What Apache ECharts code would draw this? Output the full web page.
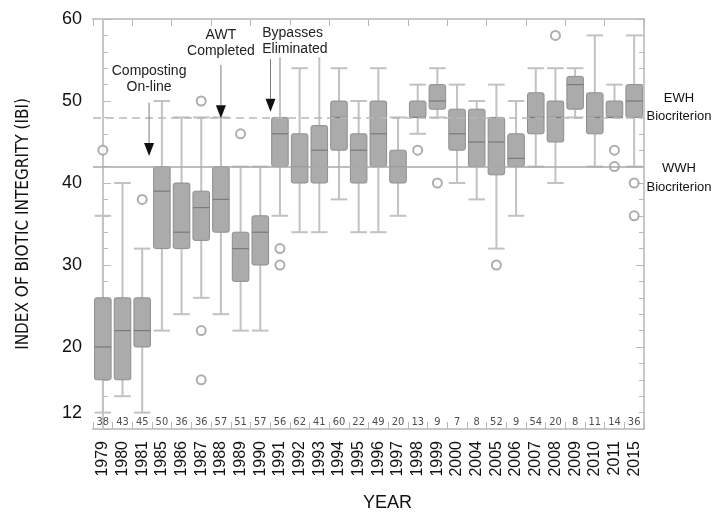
<!DOCTYPE html>
<html>
<head>
<meta charset="utf-8">
<title>Index of Biotic Integrity by year</title>
<script src="https://cdn.jsdelivr.net/npm/echarts@6/dist/echarts.min.js"></script>
<style>
  html, body { margin: 0; padding: 0; background: #fff; }
  #main { width: 722px; height: 513px; }
</style>
</head>
<body>
<div id="main"></div>
<script>
// sampling years and number of samples per year
var years = ['1979', '1980', '1981', '1985', '1986', '1987', '1988', '1989', '1990', '1991',
             '1992', '1993', '1994', '1995', '1996', '1997', '1998', '1999', '2000', '2004',
             '2005', '2006', '2007', '2008', '2009', '2010', '2011', '2015'];
var sampleN = [38, 43, 45, 50, 36, 36, 57, 51, 57, 56, 62, 41, 60, 22, 49, 20, 13, 9, 7, 8,
               52, 9, 54, 20, 8, 11, 14, 36];

// box statistics (IBI)
var whiskerLow  = [12, 14, 12, 22, 24, 26, 24, 22, 22, 36, 34, 34, 38, 34, 34, 36, 46, 48, 40, 38, 32, 36, 42, 40, 48, 42, 48, 42];
var boxLow      = [16, 16, 20, 32, 32, 33, 34, 28, 30, 42, 40, 40, 44, 40, 42, 40, 48, 49, 44, 42, 41, 42, 46, 45, 49, 46, 48, 48];
var medians     = [20, 22, 22, 39, 34, 37, 38, 32, 34, 46, 42, 44, 48, 44, 46, 42, 48, 50, 46, 45, 45, 43, 48, 48, 52, 48, 48, 50];
var boxHigh     = [26, 26, 26, 42, 40, 39, 42, 34, 36, 48, 46, 47, 50, 46, 50, 44, 50, 52, 49, 49, 48, 46, 51, 50, 53, 51, 50, 52];
var whiskerHigh = [36, 40, 32, 50, 48, 48, 48, 42, 42, 56, 54, 56, 54, 50, 54, 48, 52, 54, 52, 50, 52, 50, 54, 54, 54, 58, 52, 58];

var outlierYears  = ['1979', '1981', '1987', '1987', '1987', '1989', '1991', '1991', '1998', '1999', '2005', '2008', '2011', '2011', '2015', '2015'];
var outlierValues = [44, 38, 50, 22, 16, 46, 32, 30, 44, 40, 30, 58, 44, 42, 40, 36];

// biocriteria
var critLabels = ['EWH\nBiocriterion', 'WWH\nBiocriterion'];
var critValues = [48, 42];
var yTickLabels = [12, 20, 30, 40, 50, 60];

// event annotations (x in category index units, y in IBI units)
var noteText  = ['Composting\nOn-line', 'AWT\nCompleted', 'Bypasses\nEliminated'];
var noteX     = [2.35, 6, 8.52];
var noteTop   = [49.8, 54.4, 55.1];
var noteTip   = [43.3, 47.9, 48.7];
var noteTextX = [2.35, 6, 8.1];
var noteTextY = [52.7, 57.0, 57.3];
var noteAlign = ['center', 'center', 'left'];

var FONT = "'Liberation Sans', Arial, sans-serif";
var NARROW = "'Liberation Sans Narrow', 'DejaVu Sans Condensed', 'Liberation Sans', sans-serif";
var frameColor = '#c8c8c8';
var tickColor = '#b8b8b8';

var chart = echarts.init(document.getElementById('main'));

var boxData = years.map(function (y, i) {
    return [i, whiskerLow[i], boxLow[i], medians[i], boxHigh[i], whiskerHigh[i]];
});
var outlierData = outlierYears.map(function (y, i) {
    return [y, outlierValues[i]];
});
var countData = years.map(function (y, i) {
    return [i, 10.8, sampleN[i]];
});
var noteData = noteText.map(function (t, i) {
    return [noteX[i], noteTop[i], noteTip[i], noteTextX[i], noteTextY[i]];
});
var critData = critValues.map(function (v) {
    return [years.length - 0.5, v];
});

function renderBox(params, api) {
    var i = api.value(0);
    var w = api.size([1, 0])[0] * 0.84;
    var lo = api.coord([i, api.value(1)]);
    var q1 = api.coord([i, api.value(2)]);
    var md = api.coord([i, api.value(3)]);
    var q3 = api.coord([i, api.value(4)]);
    var hi = api.coord([i, api.value(5)]);
    var cx = lo[0], x0 = cx - w / 2, x1 = cx + w / 2;
    var ws = {stroke: '#c2c2c2', lineWidth: 2};
    return {
        type: 'group',
        children: [
            {type: 'line', shape: {x1: cx, y1: lo[1], x2: cx, y2: q1[1]}, style: ws},
            {type: 'line', shape: {x1: cx, y1: q3[1], x2: cx, y2: hi[1]}, style: ws},
            {type: 'line', shape: {x1: x0, y1: lo[1], x2: x1, y2: lo[1]}, style: ws},
            {type: 'line', shape: {x1: x0, y1: hi[1], x2: x1, y2: hi[1]}, style: ws},
            {type: 'rect', shape: {x: x0, y: q3[1], width: w, height: q1[1] - q3[1], r: 2},
             style: {fill: '#ababab', stroke: '#8e8e8e', lineWidth: 1}},
            {type: 'line', shape: {x1: x0, y1: md[1], x2: x1, y2: md[1]},
             style: {stroke: '#7a7a7a', lineWidth: 1.2}}
        ]
    };
}

function renderNote(params, api) {
    var i = params.dataIndex;
    var top = api.coord([api.value(0), api.value(1)]);
    var tip = api.coord([api.value(0), api.value(2)]);
    var txt = api.coord([api.value(3), api.value(4)]);
    var h = 13, hw = 5;
    return {
        type: 'group',
        children: [
            {type: 'line', shape: {x1: top[0], y1: top[1], x2: tip[0], y2: tip[1] - h},
             style: {stroke: '#7a7a7a', lineWidth: 1}},
            {type: 'polygon', shape: {points: [[tip[0] - hw, tip[1] - h], [tip[0] + hw, tip[1] - h], [tip[0], tip[1]]]},
             style: {fill: '#111'}},
            {type: 'text', x: txt[0], y: txt[1],
             style: {text: noteText[i], fontSize: 14, lineHeight: 16, fontFamily: FONT, fill: '#222',
                     align: noteAlign[i], verticalAlign: 'middle', backgroundColor: '#fff'}}
        ]
    };
}

// labels to the right of the frame, anchored to the criterion lines
function renderCrit(params, api) {
    var i = params.dataIndex;
    var p = api.coord([api.value(0), api.value(1)]);
    var dy = i === 0 ? -27.5 : -7.5;
    return {
        type: 'text',
        x: p[0] + 35,
        y: p[1] + dy,
        style: {text: critLabels[i], fontSize: 13, lineHeight: i === 0 ? 18 : 19, fontFamily: FONT,
                fill: '#111', align: 'center', verticalAlign: 'top'}
    };
}

var yTick = {show: true, inside: true, length: 8, lineStyle: {color: tickColor, width: 1}};
var yMinor = {show: true, splitNumber: 5, length: 5, lineStyle: {color: tickColor, width: 1}};
var frameLine = {show: true, lineStyle: {color: frameColor, width: 2}};

var option = {
    animation: false,
    backgroundColor: '#fff',
    textStyle: {fontFamily: FONT},
    grid: {left: 93, right: 78, top: 19, bottom: 84, containLabel: false, outerBoundsMode: 'none'},
    xAxis: [
        {
            type: 'category',
            data: years,
            position: 'bottom',
            axisLine: frameLine,
            axisTick: {show: true, inside: true, length: 7, lineStyle: {color: tickColor}},
            axisLabel: {rotate: 90, interval: 0, fontSize: 16, color: '#111', margin: 12, fontFamily: FONT},
            name: 'YEAR',
            nameLocation: 'middle',
            nameGap: 65,
            nameTextStyle: {fontSize: 18, color: '#111', fontFamily: FONT, padding: [0, 0, 0, 38]}
        },
        {
            type: 'value',
            min: -0.5,
            max: years.length - 0.5,
            show: false
        },
        {
            type: 'category',
            data: years,
            position: 'top',
            axisLine: frameLine,
            axisTick: {show: true, inside: true, length: 7, lineStyle: {color: tickColor}},
            axisLabel: {show: false}
        }
    ],
    yAxis: [
        {
            type: 'value',
            min: 10,
            max: 60,
            interval: 10,
            position: 'left',
            axisLine: frameLine,
            axisTick: yTick,
            minorTick: yMinor,
            splitLine: {show: false},
            axisLabel: {customValues: yTickLabels, fontSize: 18, color: '#111', margin: 11, fontFamily: FONT},
            name: 'INDEX OF BIOTIC INTEGRITY (IBI)',
            nameLocation: 'middle',
            nameGap: 61,
            nameTextStyle: {fontSize: 17, color: '#111', fontFamily: NARROW}
        },
        {
            type: 'value',
            min: 10,
            max: 60,
            interval: 10,
            position: 'right',
            axisLine: frameLine,
            axisTick: yTick,
            minorTick: yMinor,
            splitLine: {show: false},
            axisLabel: {show: false}
        }
    ],
    series: [
        {
            name: 'IBI',
            type: 'custom',
            xAxisIndex: 0,
            yAxisIndex: 0,
            renderItem: renderBox,
            encode: {x: 0, y: [1, 2, 3, 4, 5]},
            data: boxData,
            z: 2
        },
        {
            name: 'Outliers',
            type: 'scatter',
            xAxisIndex: 0,
            yAxisIndex: 0,
            symbol: 'emptyCircle',
            symbolSize: 9,
            itemStyle: {color: '#9a9a9a', borderColor: '#9a9a9a', borderWidth: 1.3},
            data: outlierData,
            z: 3,
            markLine: {
                silent: true,
                symbol: ['none', 'none'],
                label: {show: false},
                data: [
                    {yAxis: critValues[0], lineStyle: {type: [8, 5], color: '#b8b8b8', width: 1.5}},
                    {yAxis: critValues[1], lineStyle: {type: 'solid', color: '#a8a8a8', width: 1.5}}
                ]
            }
        },
        {
            name: 'n',
            type: 'scatter',
            xAxisIndex: 0,
            yAxisIndex: 0,
            symbolSize: 0,
            encode: {x: 0, y: 1},
            data: countData,
            label: {
                show: true,
                position: 'inside',
                fontSize: 11,
                color: '#222',
                fontFamily: NARROW,
                formatter: function (p) { return p.value[2]; }
            },
            z: 3
        },
        {
            name: 'Events',
            type: 'custom',
            xAxisIndex: 1,
            yAxisIndex: 0,
            renderItem: renderNote,
            encode: {x: 0, y: [1, 2]},
            data: noteData,
            z: 5
        },
        {
            name: 'Criteria',
            type: 'custom',
            xAxisIndex: 1,
            yAxisIndex: 0,
            renderItem: renderCrit,
            encode: {x: 0, y: 1},
            data: critData,
            clip: false,
            z: 5
        }
    ]
};

chart.setOption(option);
</script>
</body>
</html>
